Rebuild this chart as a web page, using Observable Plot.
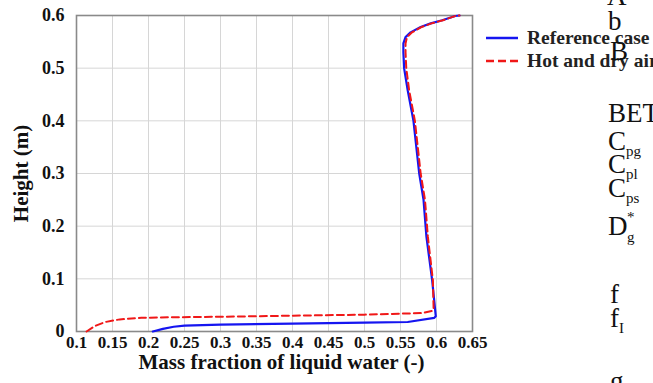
<!DOCTYPE html>
<html>
<head>
<meta charset="utf-8">
<script src="https://cdn.jsdelivr.net/npm/d3@7"></script>
<script src="https://cdn.jsdelivr.net/npm/@observablehq/plot@0.6"></script>
<style>
  html, body { margin: 0; padding: 0; background: #fff; }
  #wrap { position: relative; width: 653px; height: 383px; overflow: hidden; }
  #wrap svg.overlay { position: absolute; left: 0; top: 0; }
</style>
</head>
<body>
<div id="wrap"></div>
<script>
// ---- data ----
const seriesNames = ["Reference case", "Hot and dry air"];
const refX = [0.206, 0.22, 0.235, 0.25, 0.30, 0.40, 0.50, 0.56, 0.597, 0.599, 0.594, 0.586, 0.582, 0.576, 0.568, 0.560, 0.555, 0.554, 0.554, 0.557, 0.564, 0.578, 0.592, 0.608, 0.626, 0.632];
const refY = [0.000, 0.005, 0.009, 0.011, 0.013, 0.015, 0.017, 0.018, 0.026, 0.029, 0.097, 0.18, 0.25, 0.30, 0.40, 0.458, 0.50, 0.53, 0.547, 0.559, 0.568, 0.578, 0.585, 0.591, 0.599, 0.600];
const hotX = [0.114, 0.125, 0.14, 0.16, 0.19, 0.23, 0.30, 0.40, 0.50, 0.58, 0.594, 0.596, 0.595, 0.588, 0.584, 0.578, 0.570, 0.562, 0.558, 0.557, 0.557, 0.559, 0.566, 0.579, 0.593, 0.609, 0.626, 0.632];
const hotY = [0.000, 0.010, 0.018, 0.023, 0.026, 0.027, 0.028, 0.030, 0.032, 0.035, 0.039, 0.042, 0.097, 0.18, 0.25, 0.30, 0.40, 0.458, 0.50, 0.53, 0.547, 0.559, 0.568, 0.578, 0.585, 0.591, 0.599, 0.600];
const xTicks = [0.1, 0.15, 0.2, 0.25, 0.3, 0.35, 0.4, 0.45, 0.5, 0.55, 0.6, 0.65];
const yTicks = [0, 0.1, 0.2, 0.3, 0.4, 0.5, 0.6];
const xTitle = "Mass fraction of liquid water (-)";
const yTitle = "Height (m)";
// stray page text visible at the right of the figure
const strayText = [
  {t: "A", sub: "", sup: "", x: 607, y: 5},
  {t: "b", sub: "", sup: "", x: 608, y: 30},
  {t: "B", sub: "", sup: "", x: 610, y: 60},
  {t: "BET", sub: "", sup: "", x: 608, y: 122},
  {t: "C", sub: "pg", sup: "", x: 608, y: 150},
  {t: "C", sub: "pl", sup: "", x: 608, y: 173},
  {t: "C", sub: "ps", sup: "", x: 608, y: 197},
  {t: "D", sub: "g", sup: "*", x: 608, y: 235},
  {t: "f", sub: "", sup: "", x: 610, y: 303},
  {t: "f", sub: "I", sup: "", x: 610, y: 327},
  {t: "g", sub: "", sup: "", x: 610, y: 390}
];

const refData = refX.map((x, i) => ({x, y: refY[i]}));
const hotData = hotX.map((x, i) => ({x, y: hotY[i]}));

const serif = "'Liberation Serif', 'Times New Roman', serif";

const chart = Plot.plot({
  width: 653,
  height: 383,
  marginLeft: 76,
  marginRight: 181,
  marginTop: 15,
  marginBottom: 52,
  style: {background: "#fff", fontFamily: serif, fontWeight: "bold", fontSize: "18px", color: "#111"},
  x: {domain: [0.1, 0.65]},
  y: {domain: [0, 0.6]},
  marks: [
    Plot.gridX(xTicks, {stroke: "#d6d6d6", strokeOpacity: 1}),
    Plot.gridY(yTicks, {stroke: "#d6d6d6", strokeOpacity: 1}),
    Plot.axisX({ticks: xTicks, tickSize: 0, tickPadding: 4, label: null, tickFormat: d => String(+d.toFixed(2)), fontSize: 17, fill: "#111"}),
    Plot.axisY({ticks: yTicks, tickSize: 0, tickPadding: 12, tickFormat: d => String(+d.toFixed(1)), fontSize: 18, fill: "#111",
      label: yTitle, labelAnchor: "center", labelArrow: "none", labelOffset: 63}),
    Plot.frame({stroke: "#8a8a8a", strokeWidth: 1.6}),
    Plot.line(refData, {x: "x", y: "y", stroke: "#1515f0", strokeWidth: 2.2}),
    Plot.line(hotData, {x: "x", y: "y", stroke: "#f01818", strokeWidth: 2, strokeDasharray: "7,4"}),
    Plot.text([xTitle], {frameAnchor: "bottom", dy: 37, dx: 7, text: d => d, fontSize: 21, fill: "#111"})
  ]
});

const wrap = document.getElementById("wrap");
wrap.appendChild(chart);

// make the y-axis label larger, like the reference
d3.select(chart).selectAll("g[aria-label='y-axis label'] text").attr("font-size", 21);

// overlay: legend + stray page text
const ov = d3.select(wrap).append("svg")
  .attr("class", "overlay")
  .attr("width", 653).attr("height", 383);

const legendItems = [
  {name: seriesNames[0], stroke: "#1515f0", dash: null, y: 38},
  {name: seriesNames[1], stroke: "#f01818", dash: "8,4", y: 61}
];
legendItems.forEach(it => {
  ov.append("line").attr("x1", 486).attr("x2", 518).attr("y1", it.y).attr("y2", it.y)
    .attr("stroke", it.stroke).attr("stroke-width", 2.5)
    .attr("stroke-dasharray", it.dash);
  ov.append("text").attr("x", 527).attr("y", it.y + 6)
    .attr("font-family", serif).attr("font-weight", "bold")
    .attr("font-size", 19.5).attr("fill", "#222").text(it.name);
});

strayText.forEach(s => {
  const t = ov.append("text").attr("x", s.x).attr("y", s.y)
    .attr("font-family", serif).attr("font-size", 27).attr("fill", "#111");
  t.append("tspan").text(s.t);
  if (s.sup && s.sub) {
    const tx = s.x + 19;
    t.append("tspan").attr("x", tx).attr("y", s.y - 13).attr("font-size", 15).text(s.sup);
    t.append("tspan").attr("x", tx).attr("y", s.y + 7).attr("font-size", 15).text(s.sub);
  } else if (s.sub) {
    t.append("tspan").attr("dy", 6).attr("font-size", 15).text(s.sub);
  }
});
</script>
</body>
</html>
